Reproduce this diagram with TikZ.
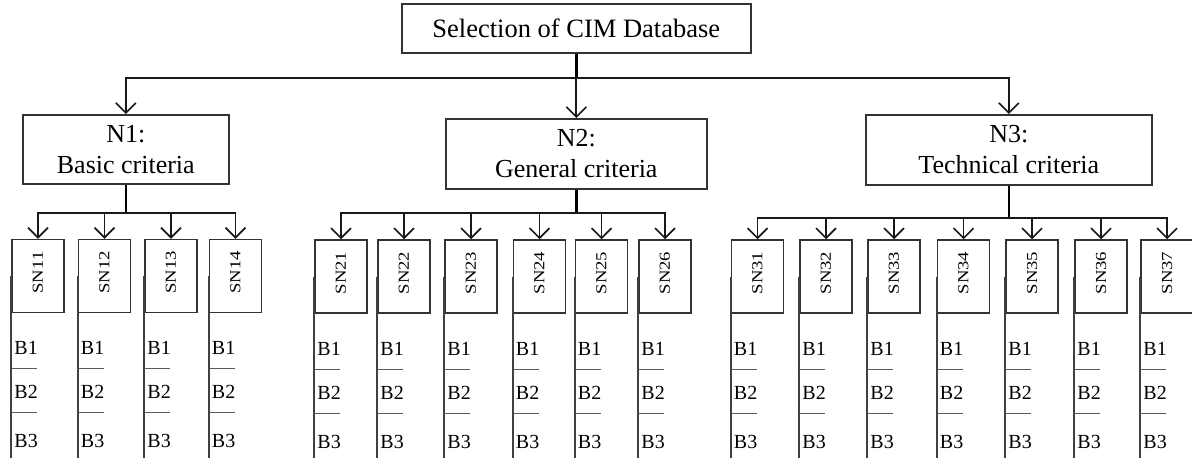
\documentclass[tikz,border=0pt]{standalone}
\usepackage{fontspec}
\setmainfont{Liberation Serif}
\usetikzlibrary{arrows.meta}
\newcommand\snlab[1]{\rotatebox{90}{\hspace{7pt}\scalebox{1.1}[0.9]{\fontsize{17}{17}\selectfont #1}}}
\newcommand\tablecol[1]{%
  \draw[colline] (#1.west) -- ([yshift=-146pt]#1.south west);
  \draw[sepline] ([yshift=-55.5pt]#1.south west) -- ++(26,0);
  \draw[sepline] ([yshift=-99.5pt]#1.south west) -- ++(26,0);
  \node[blab] (#1b1) at ([xshift=3pt,yshift=-41.5pt]#1.south west) {B1};
  \node[blab] (#1b2) at ([xshift=3pt,yshift=-85.5pt]#1.south west) {B2};
  \node[blab] (#1b3) at ([xshift=3pt,yshift=-134.5pt]#1.south west) {B3};
}
\begin{document}
\begin{tikzpicture}[x=1pt,y=-1pt,
  box/.style={draw=black!80, line width=1.6pt, inner sep=0pt, anchor=north west, align=center},
  snbox/.style={draw=black!80, line width=1.5pt, inner sep=0pt, minimum width=52pt, minimum height=73pt},
  conn/.style={line width=1.8pt, draw=black!90},
  trunk/.style={line width=2.6pt, draw=black},
  arr/.style={conn, -{Straight Barb[length=10pt,width=20pt,line width=1.6pt]}},
  colline/.style={line width=1.6pt, draw=black!75},
  sepline/.style={line width=1.2pt, draw=black!65},
  blab/.style={anchor=base west, inner sep=0pt, font=\fontsize{20}{20}\selectfont}
]
\useasboundingbox (0,0) rectangle (1192,458);
\fill[white] (0,0) rectangle (1192,458);

% top
\node[box, minimum width=349pt, minimum height=49pt, font=\fontsize{26.5}{30}\selectfont] (top) at (401,3) {Selection of CIM Database};

% level 1
\node[box, minimum width=206pt, minimum height=69pt, font=\fontsize{26}{31}\selectfont] (n1) at (22,114) {N1:\\Basic criteria};
\node[box, minimum width=261pt, minimum height=70pt, font=\fontsize{26}{31}\selectfont] (n2) at (445,118) {N2:\\General criteria};
\node[box, minimum width=286pt, minimum height=70pt, font=\fontsize{26}{31}\selectfont] (n3) at (865,114) {N3:\\Technical criteria};

\coordinate (bus0) at (top.south |- 0,78);
\draw[trunk] (top.south) -- (bus0);
\draw[arr] (bus0) -| (n1.north);
\draw[arr] (bus0) -| (n3.north);
\draw[arr] (bus0) -- (bus0 |- n2.north);

% buses
\coordinate (bus1) at (n1.south |- 0,213);
\coordinate (bus2) at (n2.south |- 0,213);
\coordinate (bus3) at (n3.south |- 0,218);
\draw[trunk] (n1.south) -- (bus1);
\draw[trunk] (n2.south) -- (bus2);
\draw[trunk] (n3.south) -- (bus3);

% N1 children
\foreach \nm/\cx in {11/38,12/104.5,13/171,14/235.5}{
  \node[snbox] (sn\nm) at (\cx,276) {\snlab{SN\nm}};
  \draw[arr] (bus1) -| (sn\nm.north);
  \tablecol{sn\nm}
}
% N2 children
\foreach \nm/\cx in {21/341,22/404,23/471,24/539.5,25/601.5,26/665}{
  \node[snbox] (sn\nm) at (\cx,276.5) {\snlab{SN\nm}};
  \draw[arr] (bus2) -| (sn\nm.north);
  \tablecol{sn\nm}
}
% N3 children
\foreach \nm/\cx in {31/757.5,32/826,33/894,34/963.5,35/1032,36/1101,37/1167}{
  \node[snbox] (sn\nm) at (\cx,276.5) {\snlab{SN\nm}};
  \draw[arr] (bus3) -| (sn\nm.north);
  \tablecol{sn\nm}
}
\end{tikzpicture}
\end{document}
